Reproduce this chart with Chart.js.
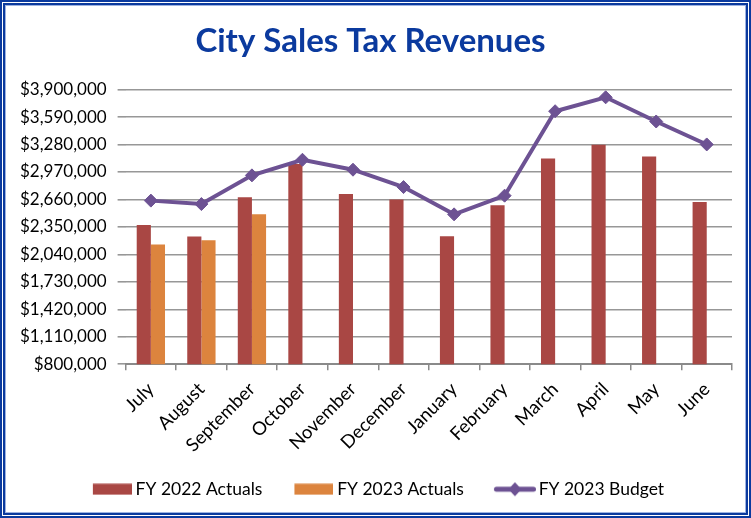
<!DOCTYPE html>
<html>
<head>
<meta charset="utf-8">
<script src="https://cdn.jsdelivr.net/npm/chart.js@4"></script>
<style>
  html, body { margin: 0; padding: 0; background: #fff; }
  #wrap { position: relative; width: 751px; height: 518px; overflow: hidden; }
  #c { position: absolute; left: 0; top: 0; }
  #frame { position: absolute; left: 0; top: 0; width: 751px; height: 518px; box-sizing: border-box;
    border: 2px solid #0b3a9e; pointer-events: none;
    box-shadow: inset 0 0 0 1px #ffffff, inset 0 0 0 3px #0b3a9e, inset 0 0 0 4px #9db2e0; }
</style>
</head>
<body>
<div id="wrap">
  <canvas id="c" width="751" height="518"></canvas>
  <div id="frame"></div>
</div>
<script>
const titleText = 'City Sales Tax Revenues';
const months = ['July','August','September','October','November','December','January','February','March','April','May','June'];
const fy2022Actuals = [2372000, 2241000, 2684000, 3060000, 2721000, 2661000, 2245000, 2594000, 3123000, 3277000, 3146000, 2631000];
const fy2023Actuals = [2151000, 2200000, 2492000, null, null, null, null, null, null, null, null, null];
const fy2023Budget = [2647000, 2608000, 2932000, 3108000, 2996000, 2800000, 2492000, 2703000, 3656000, 3813000, 3540000, 3281000];
const yTicks = [800000, 1110000, 1420000, 1730000, 2040000, 2350000, 2660000, 2970000, 3280000, 3590000, 3900000];
const seriesNames = ['FY 2022 Actuals', 'FY 2023 Actuals', 'FY 2023 Budget'];

const RED = '#a94744', ORANGE = '#dc843e', PURPLE = '#6d5293';
const FONT = 'Lato, "Open Sans", sans-serif';

// legend icons: transparent left part acts as spacing, visible mark at the right
function rectIcon(color) {
  const c = document.createElement('canvas');
  c.width = 60; c.height = 12;
  const x = c.getContext('2d');
  x.fillStyle = color; x.fillRect(21, 0.5, 39, 11);
  return c;
}
function lineIcon(color) {
  const c = document.createElement('canvas');
  c.width = 62; c.height = 16;
  const x = c.getContext('2d');
  x.strokeStyle = color; x.lineWidth = 5; x.lineCap = 'round';
  x.beginPath(); x.moveTo(22.5, 8); x.lineTo(59.5, 8); x.stroke();
  x.fillStyle = color;
  x.beginPath(); x.moveTo(41, 1); x.lineTo(47.5, 8); x.lineTo(41, 15); x.lineTo(34.5, 8); x.closePath(); x.fill();
  return c;
}
const icons = [rectIcon(RED), rectIcon(ORANGE), lineIcon(PURPLE)];

Chart.defaults.font.family = FONT;
Chart.defaults.color = '#000';

new Chart(document.getElementById('c'), {
  type: 'bar',
  data: {
    labels: months,
    datasets: [
      { type: 'line', label: seriesNames[2], data: fy2023Budget, borderColor: PURPLE, backgroundColor: PURPLE,
        borderWidth: 4, pointStyle: 'rectRot', pointRadius: 6.5, pointBorderWidth: 1, pointBackgroundColor: PURPLE,
        tension: 0, order: 0 },
      { label: seriesNames[0], data: fy2022Actuals, backgroundColor: RED, order: 1,
        categoryPercentage: 0.56, barPercentage: 1.0 },
      { label: seriesNames[1], data: fy2023Actuals, backgroundColor: ORANGE, order: 1,
        categoryPercentage: 0.56, barPercentage: 1.0 }
    ]
  },
  options: {
    responsive: false,
    animation: false,
    layout: { padding: { left: 9, right: 19, top: 0, bottom: 10 } },
    plugins: {
      title: { display: true, text: titleText, color: '#0b3a9e',
        font: { size: 33, weight: 'bold', family: FONT }, padding: { top: 22, bottom: 28 } },
      tooltip: { enabled: false },
      legend: {
        position: 'bottom',
        labels: {
          usePointStyle: true, pointStyleWidth: 50, boxHeight: 14, padding: 16,
          font: { size: 17.5, family: FONT }, color: '#000',
          generateLabels: (chart) => {
            const order = [1, 2, 0];
            return order.map((di, k) => {
              const ds = chart.data.datasets[di];
              return { text: ds.label, datasetIndex: di, pointStyle: icons[k], fillStyle: 'transparent',
                strokeStyle: 'transparent', lineWidth: 0, hidden: false };
            });
          }
        }
      }
    },
    scales: {
      x: {
        offset: true,
        grid: { offset: true, drawOnChartArea: false, drawTicks: true, tickLength: 6, color: '#8a8a8a', lineWidth: 1.5 },
        border: { display: true, color: '#8a8a8a', width: 2 },
        ticks: { minRotation: 45, maxRotation: 45, font: { size: 18.5, family: FONT }, color: '#000', padding: 8 }
      },
      y: {
        min: 800000, max: 3900000,
        afterBuildTicks: (axis) => { axis.ticks = yTicks.map(v => ({ value: v })); },
        grid: { color: '#979797', lineWidth: 1.6, tickLength: 8, drawTicks: true },
        border: { display: false },
        ticks: { font: { size: 17, family: FONT }, color: '#000', padding: 11,
          callback: (v) => '$' + Number(v).toLocaleString('en-US') }
      }
    }
  }
});
</script>
</body>
</html>
